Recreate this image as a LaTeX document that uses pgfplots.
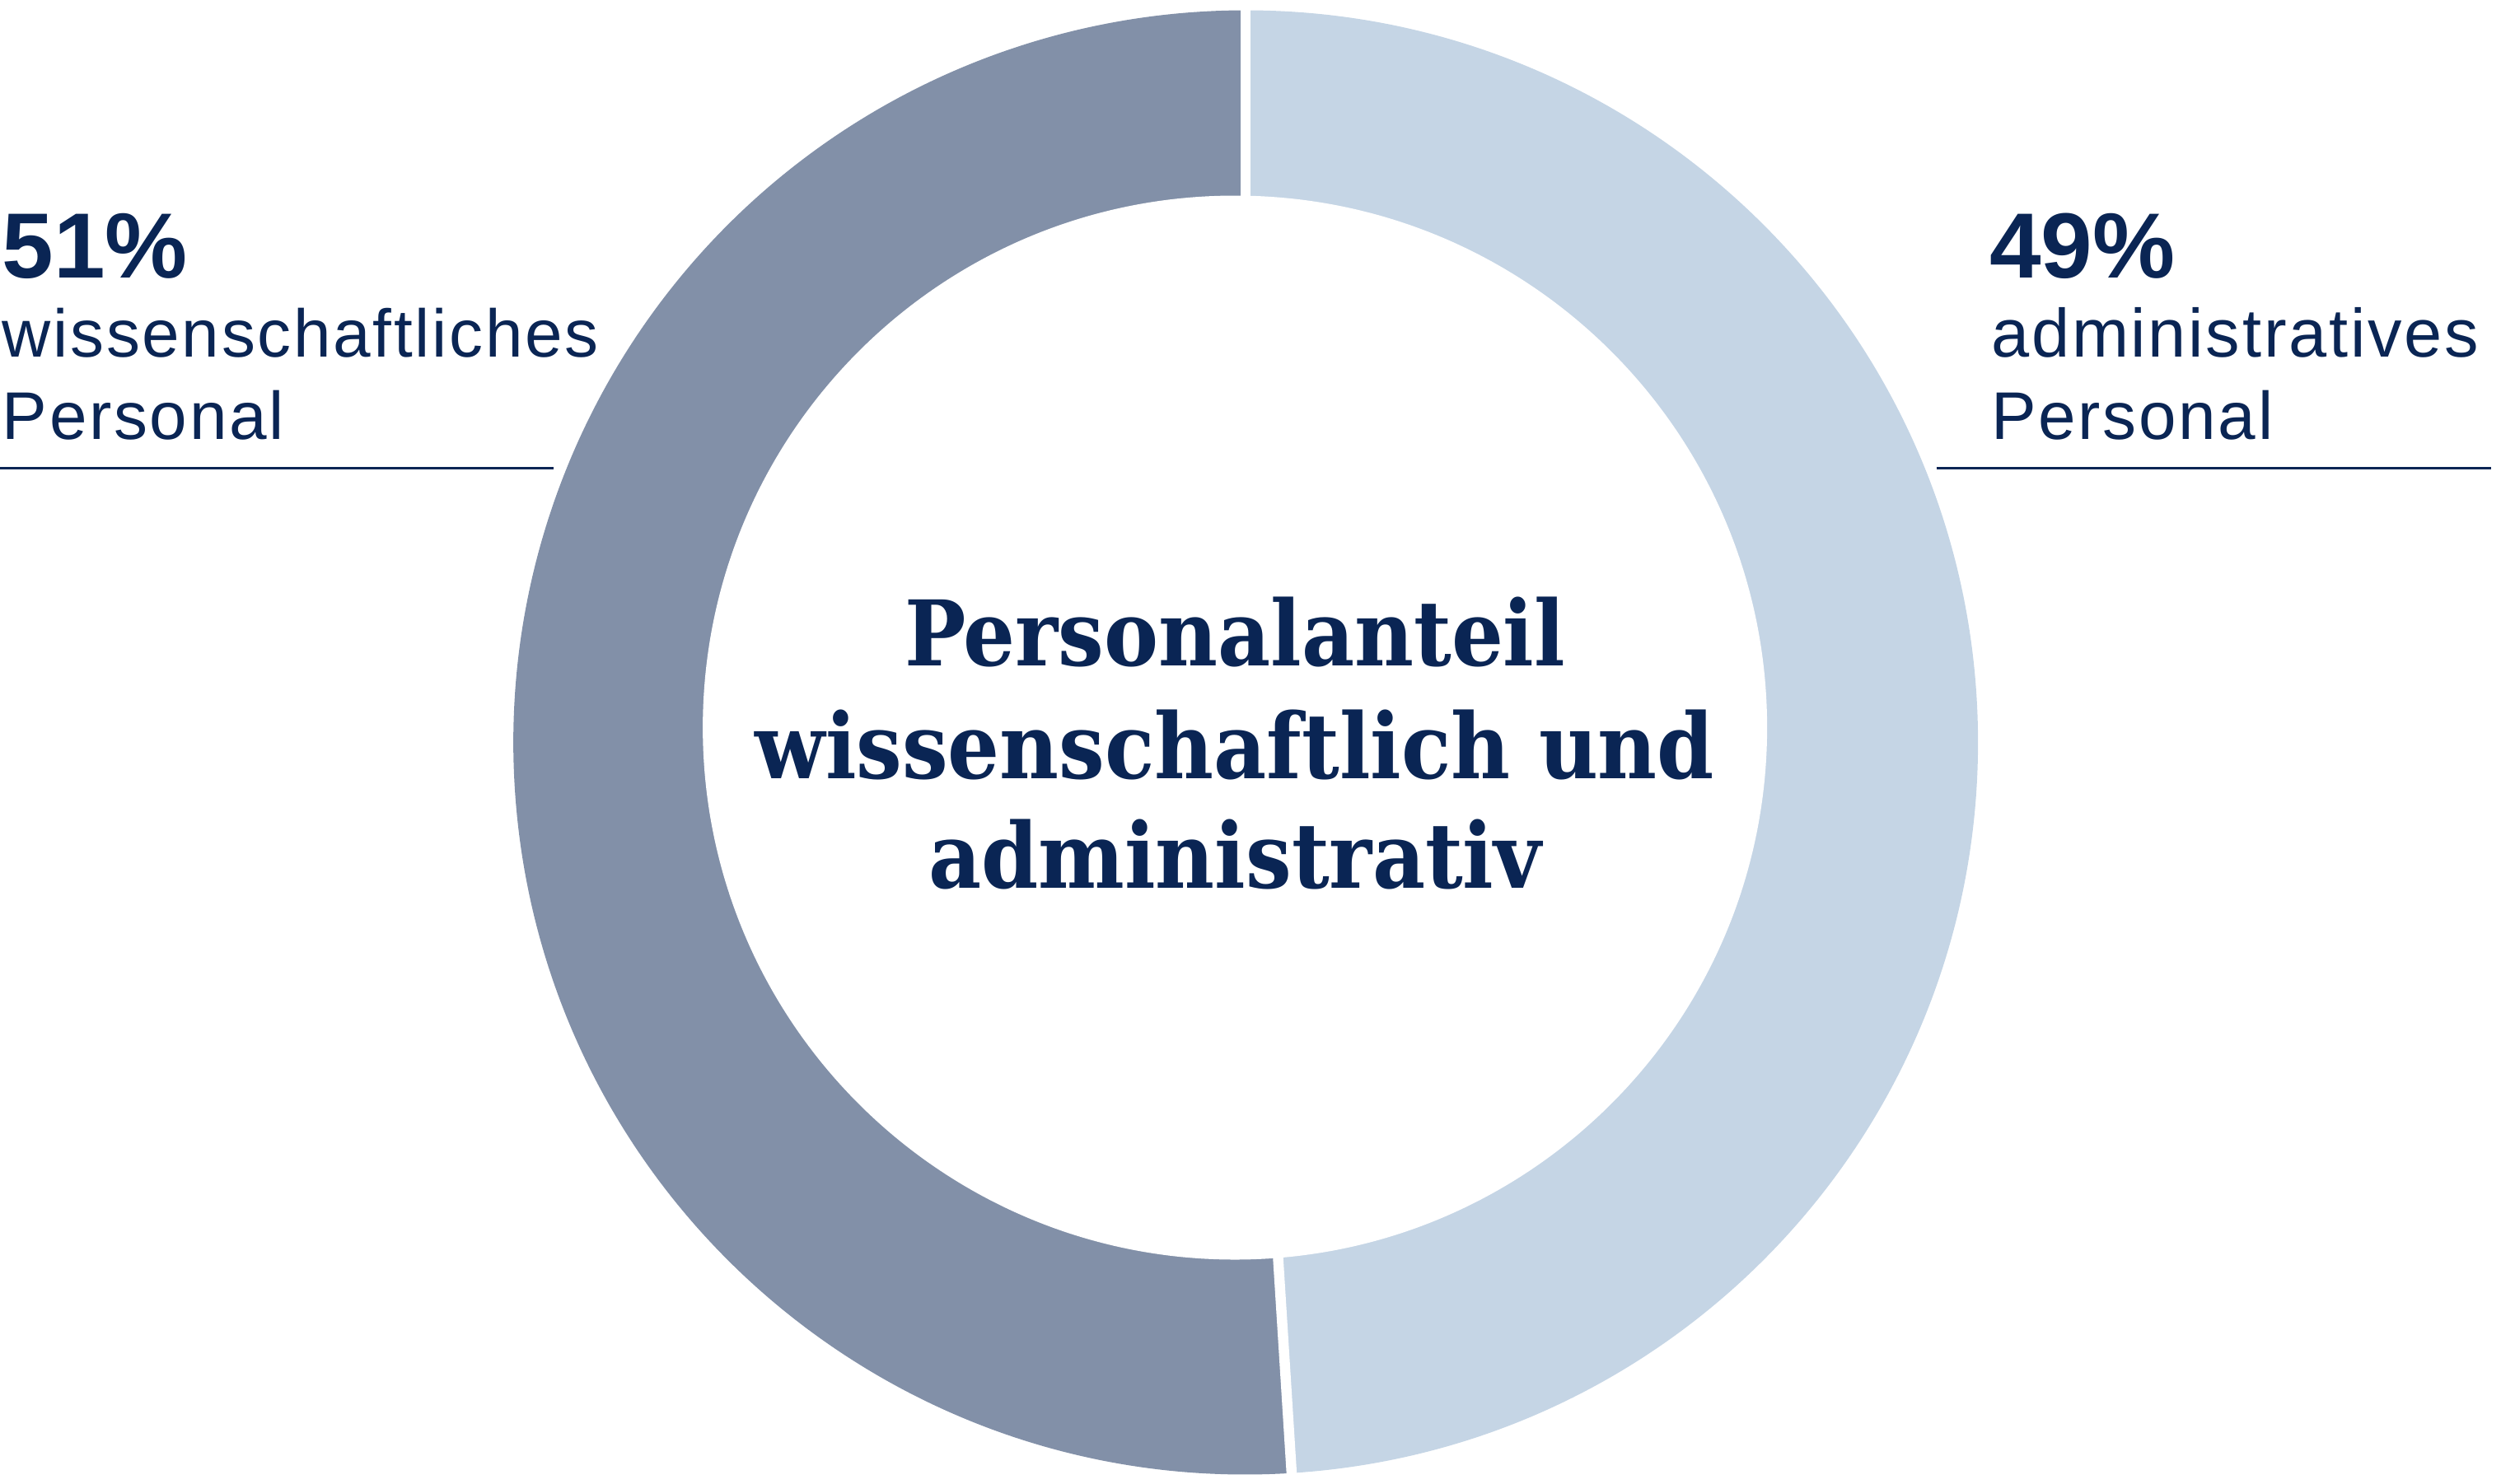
\documentclass[border=0pt]{standalone}
\usepackage{pgfplots}
\pgfplotsset{compat=1.18}
\usepackage{pgfplotstable}
\usepackage{fontspec}
\setmainfont{Liberation Sans}
\newfontfamily\labelfont[LetterSpace=3.3]{Liberation Sans}
\newfontfamily\pctfont{Liberation Sans}
\newfontfamily\titlefont{DejaVuSerifCondensed-Bold.ttf}

\definecolor{navy}{HTML}{0A2554}
\definecolor{wisscol}{HTML}{8290A8}
\definecolor{admincol}{HTML}{C5D5E5}

% Anteile in Prozent
\pgfplotstableread{
share group
49 admin
51 wiss
}\anteile

\begin{document}
\begin{tikzpicture}
\pgfplotstablegetelem{0}{share}\of\anteile \let\sAdmin\pgfplotsretval
\pgfplotstablegetelem{1}{share}\of\anteile \let\sWiss\pgfplotsretval
\pgfmathsetmacro\angA{90-3.6*\sAdmin}
\pgfmathsetmacro\angB{\angA-3.6*\sWiss}
\def\Ro{8.89cm}
\begin{axis}[
  x=0.01cm, y=0.01cm,
  xmin=0, xmax=3036, ymin=0, ymax=1802,
  scale only axis, hide axis, clip=false,
]
  % Ring
  \fill[admincol] (axis cs:1513,901) -- +(90:\Ro) arc[start angle=90, end angle=\angA, radius=\Ro] -- cycle;
  \fill[wisscol] (axis cs:1513,901) -- +(\angA:\Ro) arc[start angle=\angA, end angle=\angB, radius=\Ro] -- cycle;
  \draw[white, line width=0.125cm] (axis cs:1513,901) -- +(90:9.1cm);
  \draw[white, line width=0.125cm] (axis cs:1513,901) -- +(\angA:9.1cm);
  \fill[white] (axis cs:1500,919) circle[radius=6.46cm];

  % Titel
  \begin{scope}[every node/.style={anchor=base, inner sep=0pt, text=navy, font=\titlefont\fontsize{31.3}{37}\selectfont}]
    \node at (axis cs:1500,994) {Personalanteil};
    \node at (axis cs:1500,857) {wissenschaftlich und};
    \node at (axis cs:1500,724) {administrativ};
  \end{scope}

  % Beschriftung links und rechts
  \begin{scope}[every node/.style={anchor=base west, inner sep=0pt, text=navy}]
    \node[font=\pctfont\bfseries\fontsize{32}{38}\selectfont] at (axis cs:2,1465) {\sWiss\%};
    \node[font=\labelfont\fontsize{23.3}{28}\selectfont] at (axis cs:2,1369) {wissenschaftliches};
    \node[font=\labelfont\fontsize{23.3}{28}\selectfont] at (axis cs:2,1269) {Personal};
    \node[font=\pctfont\bfseries\fontsize{32}{38}\selectfont] at (axis cs:2416,1465) {\sAdmin\%};
    \node[font=\labelfont\fontsize{23.6}{28}\selectfont] at (axis cs:2418,1369) {administratives};
    \node[font=\labelfont\fontsize{23.3}{28}\selectfont] at (axis cs:2418,1269) {Personal};
  \end{scope}
  \draw[navy, line width=0.025cm] (axis cs:0,1234) -- (axis cs:672,1234);
  \draw[navy, line width=0.025cm] (axis cs:2352,1234) -- (axis cs:3026,1234);
\end{axis}
\pgfresetboundingbox
\path (0,0) rectangle (30.36cm,18.02cm);
\end{tikzpicture}
\end{document}
